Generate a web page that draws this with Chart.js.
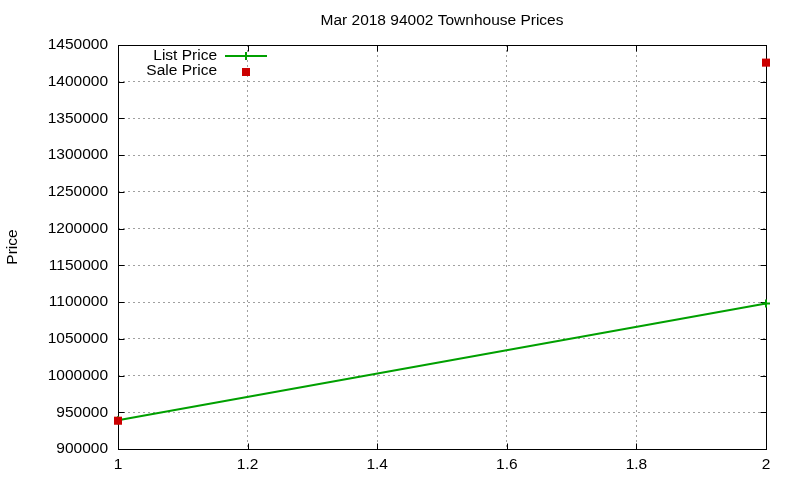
<!DOCTYPE html>
<html>
<head>
<meta charset="utf-8">
<script src="https://cdn.jsdelivr.net/npm/chart.js@4/dist/chart.umd.min.js"></script>
<style>
  body { margin: 0; background: #fff; }
</style>
</head>
<body>
<canvas id="priceChart" width="800" height="480"></canvas>
<script>
const xValues = [1, 2];
const listPrice = [939000, 1098000];
const salePrice = [938500, 1426000];
const xTicks = [1, 1.2, 1.4, 1.6, 1.8, 2];
const yTicks = [900000, 950000, 1000000, 1050000, 1100000, 1150000,
  1200000, 1250000, 1300000, 1350000, 1400000, 1450000];

const FONT = { family: '"Liberation Sans", Arial, sans-serif', size: 15.5 };
const GREEN = '#00a000';
const RED = '#cc0000';

// gnuplot style box round the plot, with inward ticks on all four sides
const framePlugin = {
  id: 'frame',
  beforeDatasetsDraw(chart) {
    const { ctx, chartArea: a, scales } = chart;
    const L = Math.round(a.left) + 0.5, R = Math.round(a.right) + 0.5;
    const T = Math.round(a.top) + 0.5, B = Math.round(a.bottom) + 0.5;
    ctx.save();
    ctx.strokeStyle = '#000';
    ctx.lineWidth = 1;
    ctx.strokeRect(L, T, R - L, B - T);
    ctx.beginPath();
    yTicks.forEach(v => {
      const y = Math.round(scales.y.getPixelForValue(v)) + 0.5;
      ctx.moveTo(L, y); ctx.lineTo(L + 6, y);
      ctx.moveTo(R, y); ctx.lineTo(R - 6, y);
    });
    xTicks.forEach(v => {
      const x = Math.round(scales.x.getPixelForValue(v)) + 0.5;
      ctx.moveTo(x, B); ctx.lineTo(x, B - 6);
      ctx.moveTo(x, T); ctx.lineTo(x, T + 6);
    });
    ctx.stroke();
    ctx.restore();
  }
};

// legend inside the top left corner: text right aligned, sample on the right
const keyPlugin = {
  id: 'key',
  afterDraw(chart) {
    const ctx = chart.ctx;
    ctx.save();
    ctx.font = FONT.size + 'px ' + FONT.family;
    ctx.textAlign = 'right';
    ctx.textBaseline = 'middle';
    chart.data.datasets.forEach((ds, i) => {
      const y = 56 + i * 15;
      ctx.fillStyle = '#000';
      ctx.fillText(ds.label, 217, y);
      if (ds.showLine) {
        ctx.strokeStyle = ds.borderColor;
        ctx.lineWidth = 2;
        ctx.beginPath();
        ctx.moveTo(225, y); ctx.lineTo(267, y);
        ctx.moveTo(246, y - 4); ctx.lineTo(246, y + 4);
        ctx.stroke();
      } else {
        ctx.fillStyle = ds.backgroundColor;
        ctx.fillRect(242, y - 3, 8, 8);
      }
    });
    ctx.restore();
  }
};

new Chart(document.getElementById('priceChart'), {
  type: 'scatter',
  data: {
    datasets: [{
      label: 'List Price',
      data: xValues.map((x, i) => ({ x: x, y: listPrice[i] })),
      showLine: true,
      borderColor: GREEN,
      backgroundColor: GREEN,
      borderWidth: 2,
      pointStyle: 'cross',
      pointRadius: 4,
      pointBorderWidth: 2,
      tension: 0,
      clip: false,
      order: 1
    }, {
      label: 'Sale Price',
      data: xValues.map((x, i) => ({ x: x, y: salePrice[i] })),
      showLine: false,
      borderColor: RED,
      backgroundColor: RED,
      pointStyle: 'rect',
      pointRadius: 5.7,
      pointBorderWidth: 0,
      clip: false,
      order: 0
    }]
  },
  options: {
    responsive: false,
    animation: false,
    devicePixelRatio: 1,
    layout: { padding: { left: 0, right: 34, top: 0, bottom: 0 } },
    plugins: {
      legend: { display: false },
      tooltip: { enabled: false },
      title: {
        display: true,
        fullSize: false,
        text: 'Mar 2018 94002 Townhouse Prices',
        color: '#000',
        font: { family: FONT.family, size: FONT.size, weight: 'normal' },
        padding: { top: 11, bottom: 15.4 }
      }
    },
    scales: {
      x: {
        type: 'linear',
        min: 1,
        max: 2,
        afterBuildTicks: s => { s.ticks = xTicks.map(v => ({ value: v })); },
        afterFit: s => { s.height = 31; },
        grid: { color: '#a0a0a0', lineWidth: 1, drawTicks: false },
        border: { display: false, dash: [2, 3] },
        ticks: {
          color: '#000',
          font: FONT,
          padding: 6,
          maxRotation: 0,
          callback: v => String(+Number(v).toFixed(1))
        }
      },
      y: {
        type: 'linear',
        min: 900000,
        max: 1450000,
        afterBuildTicks: s => { s.ticks = yTicks.map(v => ({ value: v })); },
        afterFit: s => { s.width = 118; },
        grid: { color: '#a0a0a0', lineWidth: 1, drawTicks: false },
        border: { display: false, dash: [2, 3] },
        title: {
          display: true,
          text: 'Price',
          color: '#000',
          font: FONT,
          padding: { top: 3, bottom: 0 }
        },
        ticks: {
          color: '#000',
          font: FONT,
          padding: 10,
          callback: v => String(v)
        }
      }
    }
  },
  plugins: [framePlugin, keyPlugin]
});
</script>
</body>
</html>
